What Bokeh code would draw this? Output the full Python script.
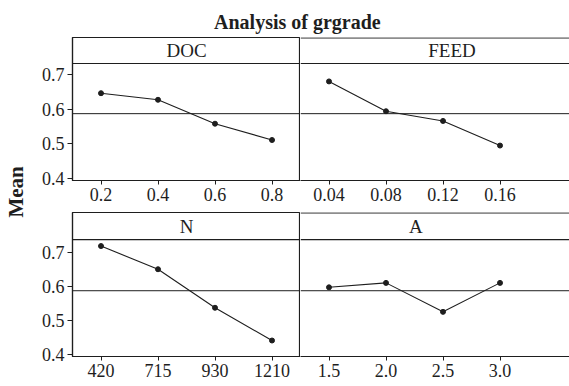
from math import pi
from bokeh.plotting import figure
from bokeh.models import Range1d, FactorRange, Span, Label, FixedTicker, PrintfTickFormatter
from bokeh.layouts import row, column
from bokeh.embed import file_html
from bokeh.resources import INLINE

# ---- data ----
title_text = "Analysis of grgrade"
y_label = "Mean"
doc_levels = [0.2, 0.4, 0.6, 0.8]
doc_means = [0.646, 0.627, 0.558, 0.511]
feed_levels = [0.04, 0.08, 0.12, 0.16]
feed_means = [0.680, 0.594, 0.566, 0.495]
n_levels = ["420", "715", "930", "1210"]
n_means = [0.718, 0.650, 0.537, 0.441]
a_levels = [1.5, 2.0, 2.5, 3.0]
a_means = [0.597, 0.610, 0.525, 0.610]
grand_mean = 0.587
y_ticks = [0.4, 0.5, 0.6, 0.7]

FONT = "Liberation Serif"
INK = "#1e1e1e"

TOP_Y = (0.3942, 0.8067, 0.7317)   # (start, end, strip line)
BOT_Y = (0.3941, 0.8164, 0.737)


def panel(name, xs, ys, x_range, yspec, width, height, left, bottom, label_x, fmt=None):
    y0, y1, strip = yspec
    p = figure(width=width, height=height, x_range=x_range, y_range=Range1d(y0, y1),
               output_backend="svg", toolbar_location=None,
               min_border_left=44 if left else 0, min_border_right=0,
               min_border_top=0, min_border_bottom=bottom,
               y_axis_location="left" if left else None)
    p.grid.visible = False
    p.background_fill_color = "white"
    p.border_fill_color = "white"
    if left:
        p.outline_line_color = INK
        p.outline_line_width = 1.2
        p.outline_line_alpha = 1.0
        ax = p.yaxis[0]
        ax.ticker = FixedTicker(ticks=y_ticks)
        ax.formatter = PrintfTickFormatter(format="%.1f")
        ax.major_label_text_font = FONT
        ax.major_label_text_font_size = "18px"
        ax.major_label_text_color = INK
        ax.axis_line_color = INK
        ax.axis_line_width = 1.2
        ax.major_tick_line_color = INK
        ax.major_tick_out = 5
        ax.major_tick_in = 0
        ax.minor_tick_line_color = None
        ax.major_label_standoff = 3
    else:
        p.outline_line_color = None
        p.add_layout(Span(location=y1 - 0.001, dimension="width", line_color=INK, line_width=1.2))
    xa = p.xaxis[0]
    if fmt is not None:
        xa.ticker = FixedTicker(ticks=xs)
        xa.formatter = PrintfTickFormatter(format=fmt)
    xa.major_label_text_font = FONT
    xa.major_label_text_font_size = "18px"
    xa.major_label_text_color = INK
    xa.axis_line_color = INK
    xa.axis_line_width = 1.2
    xa.major_tick_line_color = INK
    xa.major_tick_out = 4
    xa.major_tick_in = 0
    xa.minor_tick_line_color = None
    xa.major_label_standoff = 3

    p.add_layout(Span(location=strip, dimension="width", line_color=INK, line_width=1.2))
    p.add_layout(Span(location=grand_mean, dimension="width", line_color=INK, line_width=1.0))
    p.add_layout(Label(x=label_x, y=(strip + y1) / 2, text=name, text_align="center",
                       text_baseline="middle", text_font=FONT, text_font_size="19px",
                       text_color=INK))
    p.line(xs, ys, line_color=INK, line_width=1.1)
    p.scatter(xs, ys, size=5, color=INK)
    return p


RIGHT_W = 269
tl = panel("DOC", doc_levels, doc_means, Range1d(0.1, 0.9), TOP_Y, 272, 175, True, 32, 0.5, "%.1f")
tr = panel("FEED", feed_levels, feed_means, Range1d(0.02, 0.02 + RIGHT_W / 1425.0), TOP_Y,
           RIGHT_W, 175, False, 32, 0.1263, "%.2f")
bl = panel("N", n_levels, n_means, FactorRange(factors=n_levels), BOT_Y, 272, 174, True, 30, 2.0)
br = panel("A", a_levels, a_means, Range1d(1.25, 1.25 + RIGHT_W / 114.0), BOT_Y,
           RIGHT_W, 174, False, 30, 2.263, "%.1f")


def text_fig(width, height):
    f = figure(width=width, height=height, x_range=Range1d(0, 1), y_range=Range1d(0, 1),
               output_backend="svg", toolbar_location=None,
               min_border_left=0, min_border_right=0, min_border_top=0, min_border_bottom=0)
    f.axis.visible = False
    f.grid.visible = False
    f.outline_line_color = None
    return f


title_fig = text_fig(272 + RIGHT_W, 37)
title_fig.add_layout(Label(x=0.497, y=0.43, text=title_text, text_align="center",
                           text_baseline="alphabetic", text_font=FONT, text_font_size="20px",
                           text_font_style="bold", text_color=INK))

mean_fig = text_fig(28, 386)
mean_fig.add_layout(Label(x=0.55, y=0.504, text=y_label, angle=pi / 2, text_align="center",
                          text_baseline="middle", text_font=FONT, text_font_size="21px",
                          text_font_style="bold", text_color=INK))

layout = row(mean_fig, column(title_fig, row(tl, tr), row(bl, br)))

open("out.html", "w").write(file_html(layout, INLINE))
